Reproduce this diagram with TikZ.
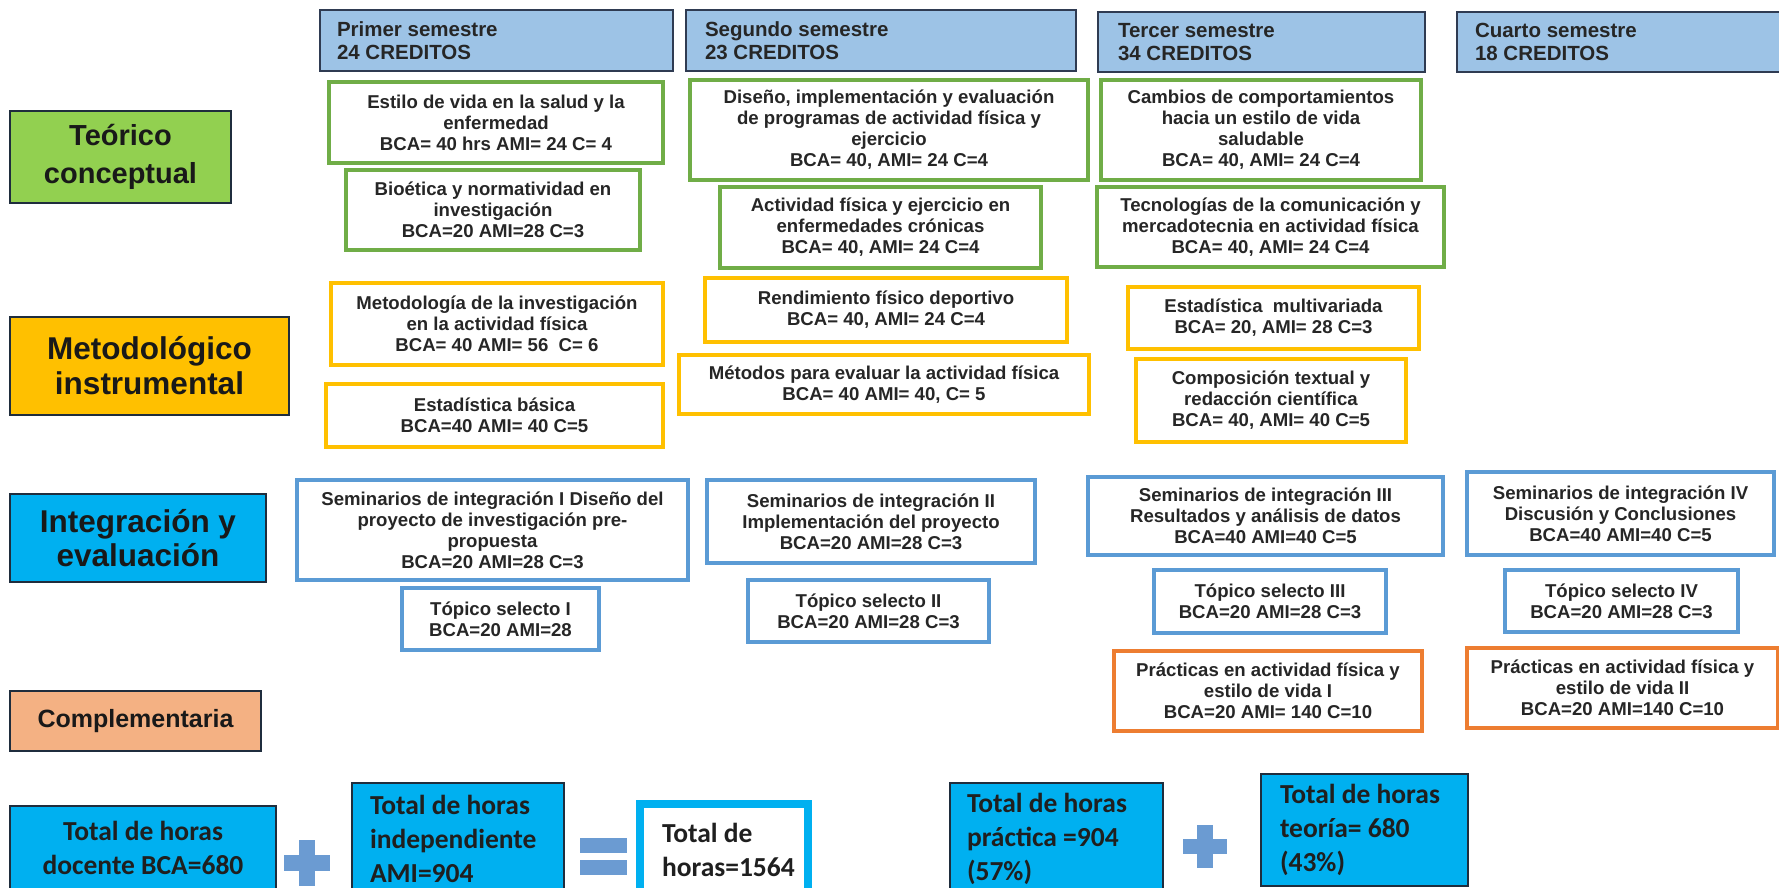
\documentclass[tikz,border=0pt]{standalone}
\usepackage{fontspec}
\setmainfont{Liberation Sans}
\newfontfamily\calib{Carlito}
\definecolor{txt}{HTML}{262626}
\definecolor{hdrf}{HTML}{9DC3E6}
\definecolor{hdrb}{HTML}{2F3B52}
\definecolor{cgreen}{HTML}{70AD47}
\definecolor{cgold}{HTML}{FFC000}
\definecolor{cblue}{HTML}{5B9BD5}
\definecolor{corange}{HTML}{ED7D31}
\definecolor{lgreen}{HTML}{92D050}
\definecolor{lcyan}{HTML}{00B0F0}
\definecolor{lsalmon}{HTML}{F4B183}
\definecolor{opc}{HTML}{6B9BD2}
\definecolor{darkb}{HTML}{1F2D3D}
\tikzset{
  basebox/.style={draw, inner sep=0pt, align=center, text=txt},
  course/.style={basebox, fill=white, line width=3.5pt, font=\bfseries\fontsize{18.6}{21}\selectfont},
  cg/.style={course, draw=cgreen},
  cy/.style={course, draw=cgold},
  cb/.style={course, draw=cblue},
  co/.style={course, draw=corange},
  hdr/.style={basebox, fill=hdrf, draw=hdrb, line width=2.5pt, font=\bfseries\fontsize{20.5}{23}\selectfont},
  lab/.style={basebox, draw=darkb, line width=2.5pt, text=black!90},
  bot/.style={basebox, fill=lcyan, draw=darkb, line width=2.5pt, text=black!88, font=\calib\bfseries\fontsize{27.5}{34}\selectfont},
  botw/.style={bot, fill=white, draw=lcyan, line width=8pt},
}
\newcommand\cbx[7]{%
  \node[#1, minimum width={(#5-#3)*1pt}, minimum height={(#6-#4)*1pt}] (#2) at ({(#3+#5)/2},{(#4+#6)/2}) {#7};}
\newcommand\lbx[8]{%
  \pgfmathsetmacro\tw{#5-#3-2*#7}%
  \node[#1, text width=\tw pt, align=flush left, minimum width={(#5-#3)*1pt}, minimum height={(#6-#4)*1pt}] (#2) at ({(#3+#5)/2},{(#4+#6)/2}) {#8};}
\begin{document}
\begin{tikzpicture}[x=1pt, y=-1pt]
\useasboundingbox (0,0) rectangle (1779,888);
\fill[white] (0,0) rectangle (1779,888);
\clip (0,0) rectangle (1779,888);
% headers
\lbx{hdr}{h1}{320}{10}{673}{71}{17}{Primer semestre\\24 CREDITOS}
\lbx{hdr}{h2}{686}{10}{1076}{71}{19}{Segundo semestre\\23 CREDITOS}
\lbx{hdr}{h3}{1098}{12}{1425}{72}{20}{Tercer semestre\\34 CREDITOS}
\lbx{hdr}{h4}{1457}{12}{1795}{72}{18}{Cuarto semestre\\18 CREDITOS}
% row labels
\cbx{lab, fill=lgreen, font=\bfseries\fontsize{29}{38}\selectfont}{l1}{10}{111}{231}{203}{Teórico\\conceptual}
\cbx{lab, fill=cgold, font=\bfseries\fontsize{31.5}{35}\selectfont}{l2}{10}{317}{289}{415}{Metodológico\\instrumental}
\cbx{lab, fill=lcyan, font=\bfseries\fontsize{31.5}{34}\selectfont}{l3}{10}{494}{266}{582}{Integración y\\evaluación}
\cbx{lab, fill=lsalmon, font=\bfseries\fontsize{25}{30}\selectfont}{l4}{10}{691}{261}{751}{\raisebox{4pt}{Complementaria}}
% column 1
\cbx{cg}{c1a}{329}{82}{663}{163}{Estilo de vida en la salud y la\\enfermedad\\BCA= 40 hrs AMI= 24 C= 4}
\cbx{cg}{c1b}{346}{170}{640}{250}{Bioética y normatividad en\\investigación\\BCA=20 AMI=28 C=3}
\cbx{cy}{c1c}{331}{283}{663}{365}{Metodología de la investigación\\en la actividad física\\BCA= 40 AMI= 56 \ C= 6}
\cbx{cy}{c1d}{326}{384}{663}{447}{Estadística básica\\BCA=40 AMI= 40 C=5}
\cbx{cb}{c1e}{297}{480}{688}{580}{Seminarios de integración I Diseño del\\proyecto de investigación pre-\\propuesta\\BCA=20 AMI=28 C=3}
\cbx{cb}{c1f}{402}{588}{599}{650}{Tópico selecto I\\BCA=20 AMI=28}
% column 2
\cbx{cg}{c2a}{690}{80}{1088}{180}{Diseño, implementación y evaluación\\de programas de actividad física y\\ejercicio\\BCA= 40, AMI= 24 C=4}
\cbx{cg}{c2b}{720}{187}{1041}{268}{Actividad física y ejercicio en\\enfermedades crónicas\\BCA= 40, AMI= 24 C=4}
\cbx{cy}{c2c}{705}{278}{1067}{342}{Rendimiento físico deportivo\\BCA= 40, AMI= 24 C=4}
\cbx{cy}{c2d}{679}{355}{1089}{414}{Métodos para evaluar la actividad física\\BCA= 40 AMI= 40, C= 5}
\cbx{cb}{c2e}{707}{480}{1035}{563}{Seminarios de integración II\\Implementación del proyecto\\BCA=20 AMI=28 C=3}
\cbx{cb}{c2f}{748}{580}{989}{642}{Tópico selecto II\\BCA=20 AMI=28 C=3}
% column 3
\cbx{cg}{c3a}{1101}{80}{1421}{180}{Cambios de comportamientos\\hacia un estilo de vida\\saludable\\BCA= 40, AMI= 24 C=4}
\cbx{cg}{c3b}{1097}{187}{1444}{267}{Tecnologías de la comunicación y\\mercadotecnia en actividad física\\BCA= 40, AMI= 24 C=4}
\cbx{cy}{c3c}{1128}{287}{1419}{349}{Estadística \ multivariada\\BCA= 20, AMI= 28 C=3}
\cbx{cy}{c3d}{1136}{359}{1406}{442}{Composición textual y\\redacción científica\\BCA= 40, AMI= 40 C=5}
\cbx{cb}{c3e}{1088}{477}{1443}{555}{Seminarios de integración III\\Resultados y análisis de datos\\BCA=40 AMI=40 C=5}
\cbx{cb}{c3f}{1154}{570}{1386}{633}{Tópico selecto III\\BCA=20 AMI=28 C=3}
\cbx{co}{c3g}{1114}{651}{1422}{731}{Prácticas en actividad física y\\estilo de vida I\\BCA=20 AMI= 140 C=10}
% column 4
\cbx{cb}{c4a}{1467}{472}{1774}{555}{Seminarios de integración IV\\Discusión y Conclusiones\\BCA=40 AMI=40 C=5}
\cbx{cb}{c4b}{1505}{570}{1738}{632}{Tópico selecto IV\\BCA=20 AMI=28 C=3}
\cbx{co}{c4c}{1467}{648}{1778}{728}{Prácticas en actividad física y\\estilo de vida II\\BCA=20 AMI=140 C=10}
% bottom totals
\cbx{bot}{b1}{10}{806}{276}{890}{Total de horas\\docente BCA=680}
\lbx{bot}{b2}{352}{783}{564}{894}{18}{Total de horas\\independiente\\AMI=904}
\lbx{botw}{b3}{640}{804}{808}{896}{22}{Total de\\horas=1564}
\lbx{bot}{b4}{950}{783}{1163}{894}{17}{Total de horas\\práctica =904\\(57\%)}
\lbx{bot}{b5}{1261}{774}{1468}{886}{19}{Total de horas\\teoría= 680\\(43\%)}
% operators
\fill[opc] (284,855) rectangle (330,871);
\fill[opc] (299,840) rectangle (315,886);
\fill[opc] (580,838) rectangle (627,853);
\fill[opc] (580,860) rectangle (627,875);
\fill[opc] (1183,839) rectangle (1227,854);
\fill[opc] (1197,825) rectangle (1213,868);
\end{tikzpicture}
\end{document}
